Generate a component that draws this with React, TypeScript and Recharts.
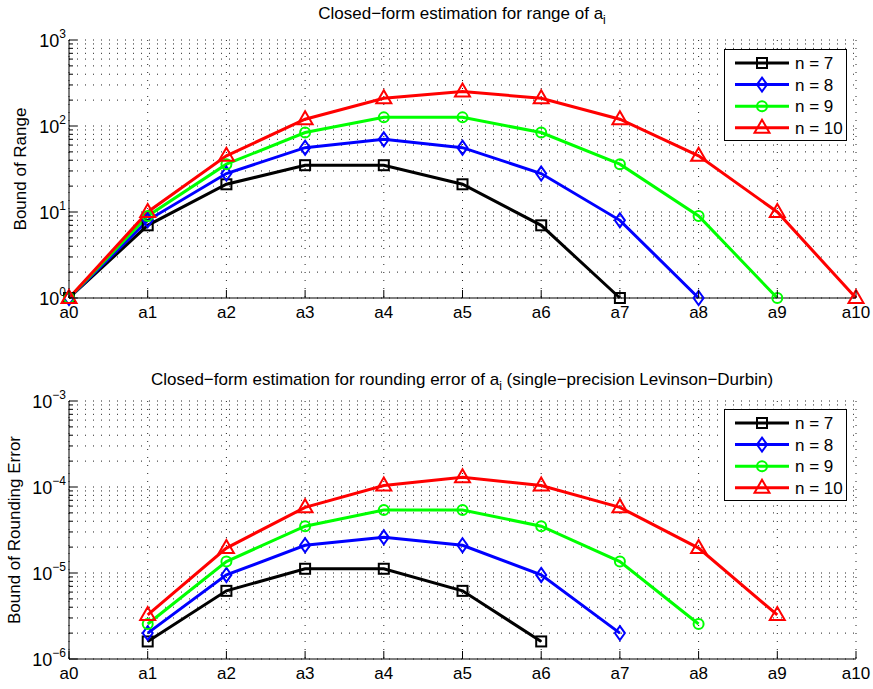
import React from "react"
import { LineChart, Line, XAxis, YAxis, CartesianGrid, Legend } from "recharts"

const categories = ["a0", "a1", "a2", "a3", "a4", "a5", "a6", "a7", "a8", "a9", "a10"]

// top plot: bound of range
const rangeN7 = [1, 7, 21, 35, 35, 21, 7, 1]
const rangeN8 = [1, 8, 28, 56, 70, 56, 28, 8, 1]
const rangeN9 = [1, 9, 36, 84, 126, 126, 84, 36, 9, 1]
const rangeN10 = [1, 10, 45, 120, 210, 252, 210, 120, 45, 10, 1]

// bottom plot: bound of rounding error
const errN7 = [null, 1.6e-6, 6.2e-6, 1.12e-5, 1.12e-5, 6.2e-6, 1.6e-6]
const errN8 = [null, 2.0e-6, 9.5e-6, 2.1e-5, 2.6e-5, 2.1e-5, 9.5e-6, 2.0e-6]
const errN9 = [null, 2.55e-6, 1.36e-5, 3.5e-5, 5.4e-5, 5.4e-5, 3.5e-5, 1.36e-5, 2.55e-6]
const errN10 = [null, 3.25e-6, 1.95e-5, 5.8e-5, 1.04e-4, 1.3e-4, 1.04e-4, 5.8e-5, 1.95e-5, 3.25e-6]

const rangeTicks = [
  1, 2, 3, 4, 5, 6, 7, 8, 9,
  10, 20, 30, 40, 50, 60, 70, 80, 90,
  100, 200, 300, 400, 500, 600, 700, 800, 900, 1000,
]
const errTicks = [
  1e-6, 2e-6, 3e-6, 4e-6, 5e-6, 6e-6, 7e-6, 8e-6, 9e-6,
  1e-5, 2e-5, 3e-5, 4e-5, 5e-5, 6e-5, 7e-5, 8e-5, 9e-5,
  1e-4, 2e-4, 3e-4, 4e-4, 5e-4, 6e-4, 7e-4, 8e-4, 9e-4, 1e-3,
]

const seriesInfo = [
  { key: "n7", name: "n = 7", color: "#000000", shape: "square" },
  { key: "n8", name: "n = 8", color: "#0000ff", shape: "diamond" },
  { key: "n9", name: "n = 9", color: "#00ff00", shape: "circle" },
  { key: "n10", name: "n = 10", color: "#ff0000", shape: "triangle" },
]

const buildRows = (a: any[], b: any[], c: any[], d: any[]) =>
  categories.map((name, i) => ({
    name,
    n7: a[i] ?? null,
    n8: b[i] ?? null,
    n9: c[i] ?? null,
    n10: d[i] ?? null,
  }))

const rangeData = buildRows(rangeN7, rangeN8, rangeN9, rangeN10)
const errData = buildRows(errN7, errN8, errN9, errN10)

const FONT = "'Liberation Sans', Arial, Helvetica, sans-serif"

function Marker({ shape, cx, cy, color }: any) {
  const common = { fill: "none", stroke: color, strokeWidth: 2 }
  if (shape === "square") return <rect x={cx - 5} y={cy - 5} width={10} height={10} {...common} />
  if (shape === "diamond")
    return <polygon points={`${cx},${cy - 7} ${cx + 5},${cy} ${cx},${cy + 7} ${cx - 5},${cy}`} {...common} />
  if (shape === "circle") return <circle cx={cx} cy={cy} r={5} {...common} />
  return <polygon points={`${cx},${cy - 8} ${cx + 7.5},${cy + 5} ${cx - 7.5},${cy + 5}`} {...common} />
}

const makeDot = (shape: string, color: string) => (props: any) => {
  const { cx, cy, value, index } = props
  if (value == null || cx == null || cy == null) return <g key={index} />
  return <Marker key={index} shape={shape} cx={cx} cy={cy} color={color} />
}

const isDecade = (v: number) => {
  const e = Math.log10(v)
  return Math.abs(e - Math.round(e)) < 1e-6
}

const makeYTick = (side: "left" | "right") => (props: any) => {
  const { x, y, payload } = props
  const v = payload.value
  const major = isDecade(v)
  const dir = side === "left" ? 1 : -1
  const exp = Math.round(Math.log10(v))
  return (
    <g>
      <line x1={x} x2={x + dir * (major ? 8 : 4)} y1={y} y2={y} stroke="#000" />
      {side === "left" && major && (
        <text x={x - 3} y={y + 7} textAnchor="end" fontSize={18} fontFamily={FONT} fill="#000">
          10
          <tspan dy={-9} fontSize={12}>
            {exp < 0 ? `\u2212${-exp}` : exp}
          </tspan>
        </text>
      )}
    </g>
  )
}

const makeXTick = (side: "top" | "bottom") => (props: any) => {
  const { x, y, payload } = props
  return (
    <g>
      <line x1={x} x2={x} y1={y} y2={side === "bottom" ? y - 8 : y + 8} stroke="#000" />
      {side === "bottom" && (
        <text x={x} y={y + 20} textAnchor="middle" fontSize={17} fontFamily={FONT} fill="#000">
          {payload.value}
        </text>
      )}
    </g>
  )
}

function LegendBox() {
  return (
    <svg width={124} height={92} style={{ display: "block" }}>
      <rect x={0.5} y={0.5} width={122} height={91} fill="#fff" stroke="#000" />
      {seriesInfo.map((s, i) => {
        const cy = 14 + i * 21.6
        return (
          <g key={s.key}>
            <line x1={11} x2={65} y1={cy} y2={cy} stroke={s.color} strokeWidth={3} />
            <Marker shape={s.shape} cx={38} cy={cy} color={s.color} />
            <text x={71} y={cy + 6} fontSize={17} fontFamily={FONT} fill="#000">
              {s.name}
            </text>
          </g>
        )
      })}
    </svg>
  )
}

function Panel({ data, ticks, domain, legendTop }: any) {
  return (
    <LineChart width={873} height={340} data={data} margin={{ top: 40, right: 17, bottom: 20, left: 19 }}>
      <CartesianGrid stroke="#222" strokeDasharray="1 7" />
      <XAxis
        dataKey="name"
        interval={0}
        tickSize={0}
        tickMargin={0}
        height={22}
        tickLine={false}
        axisLine={{ stroke: "#000" }}
        tick={makeXTick("bottom")}
      />
      <XAxis
        xAxisId="top"
        orientation="top"
        dataKey="name"
        interval={0}
        tickSize={0}
        tickMargin={0}
        height={0}
        tickLine={false}
        axisLine={{ stroke: "#000" }}
        tick={makeXTick("top")}
      />
      <YAxis
        type="number"
        scale="log"
        domain={domain}
        ticks={ticks}
        interval={0}
        width={50}
        tickSize={0}
        tickMargin={0}
        tickLine={false}
        axisLine={{ stroke: "#000" }}
        tick={makeYTick("left")}
      />
      <YAxis
        yAxisId="r"
        orientation="right"
        type="number"
        scale="log"
        domain={domain}
        ticks={ticks}
        interval={0}
        width={0}
        tickSize={0}
        tickMargin={0}
        tickLine={false}
        axisLine={{ stroke: "#000" }}
        tick={makeYTick("right")}
      />
      {seriesInfo.map((s) => (
        <Line
          key={s.key}
          dataKey={s.key}
          name={s.name}
          stroke={s.color}
          strokeWidth={3}
          dot={makeDot(s.shape, s.color)}
          activeDot={false}
          isAnimationActive={false}
        />
      ))}
      <Legend
        layout="vertical"
        align="center"
        verticalAlign="middle"
        content={<LegendBox />}
        wrapperStyle={{ left: 724, top: legendTop, width: 124, height: 92 }}
      />
    </LineChart>
  )
}

export default function App() {
  return (
    <div style={{ position: "absolute", left: 0, top: 0, width: 873, height: 689, background: "#fff" }}>
      <div style={{ position: "absolute", left: 0, top: 0 }}>
        <Panel data={rangeData} ticks={rangeTicks} domain={[1, 1000]} legendTop={49} />
      </div>
      <div style={{ position: "absolute", left: 0, top: 361 }}>
        <Panel data={errData} ticks={errTicks} domain={[1e-6, 1e-3]} legendTop={48} />
      </div>
      <svg
        width={873}
        height={689}
        style={{ position: "absolute", left: 0, top: 0, pointerEvents: "none" }}
        fontFamily={FONT}
      >
        <text x={462} y={19} textAnchor="middle" fontSize={17} fill="#000">
          Closed{"\u2212"}form estimation for range of a
          <tspan dy={5} fontSize={12}>i</tspan>
        </text>
        <text x={462} y={385} textAnchor="middle" fontSize={17} fill="#000">
          Closed{"\u2212"}form estimation for rounding error of a
          <tspan dy={5} fontSize={12}>i</tspan>
          <tspan dy={-5}> (single{"\u2212"}precision Levinson{"\u2212"}Durbin)</tspan>
        </text>
        <text x={20} y={169} transform="rotate(-90 20 169)" textAnchor="middle" dominantBaseline="central" fontSize={17} fill="#000">
          Bound of Range
        </text>
        <text x={14} y={530} transform="rotate(-90 14 530)" textAnchor="middle" dominantBaseline="central" fontSize={17} fill="#000">
          Bound of Rounding Error
        </text>
      </svg>
    </div>
  )
}
